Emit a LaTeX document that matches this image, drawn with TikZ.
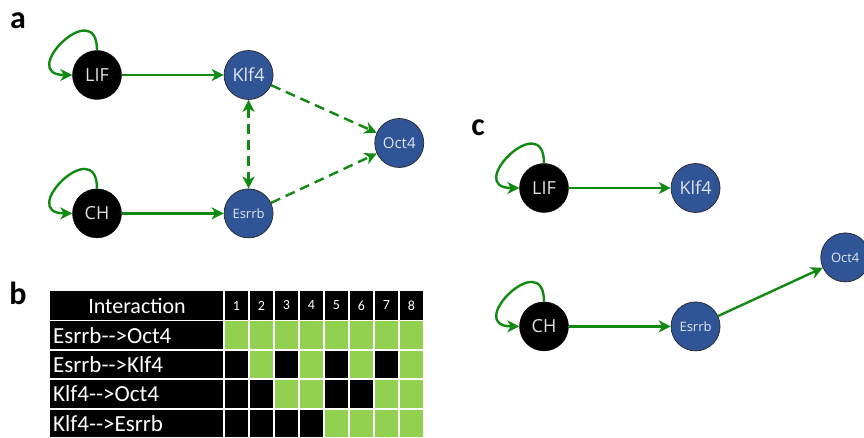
\documentclass[tikz,border=0pt]{standalone}
\usepackage{fontspec}
\setmainfont{Carlito}
\newfontfamily\genefont{Open Sans}
\usetikzlibrary{positioning,arrows.meta}

\definecolor{netgreen}{RGB}{16,138,16}
\definecolor{geneblue}{RGB}{47,85,151}
\definecolor{cellgreen}{RGB}{146,208,80}

\tikzset{
  input/.style={circle, fill=black, draw=black, minimum size=49pt, inner sep=0pt,
    text=white!88!black, font=\genefont\fontsize{18}{18}\selectfont},
  gene/.style={circle, fill=geneblue, draw=black!85, line width=0.7pt, minimum size=49pt,
    inner sep=0pt, text=white!85!geneblue, font=\genefont\fontsize{18}{18}\selectfont},
  smalltext/.style={font=\genefont\fontsize{13}{13}\selectfont},
  midtext/.style={font=\genefont\fontsize{15}{15}\selectfont},
  act/.style={-{Stealth[length=12pt,width=12pt,inset=3.5pt]}, netgreen, line width=2.4pt},
  maybe/.style={act, dash pattern=on 10pt off 6pt},
  both/.style={maybe, {Stealth[length=12pt,width=12pt,inset=3.5pt]}-{Stealth[length=12pt,width=12pt,inset=3.5pt]}},
  selfloop/.style={act, out=90, in=180, distance=56pt},
  panel/.style={font=\bfseries\fontsize{32}{32}\selectfont},
  tabtext/.style={text=white, font=\fontsize{23}{23}\selectfont, inner sep=0pt},
  numtext/.style={text=white, font=\fontsize{14}{14}\selectfont, inner sep=0pt}
}

\begin{document}
\begin{tikzpicture}[x=1pt, y=1pt, node distance=102pt]
  \useasboundingbox (0,0) rectangle (864,-438);

  % panel a
  \node[panel] (labela) at (18,-21) {a};
  \node[input] (lifa) at (97,-75) {LIF};
  \node[gene] [right=of lifa] (klfa) {Klf4};
  \node[input] [below=89pt of lifa] (cha) {CH};
  \node[gene, smalltext] [right=of cha] (esrrba) {Esrrb};
  \node[gene, midtext] [right=101pt of klfa, yshift=-68pt] (octa) {Oct4};

  \draw[act] (lifa) -- (klfa);
  \draw[act] (cha) -- (esrrba);
  \draw[selfloop] (lifa) to (lifa);
  \draw[selfloop] (cha) to (cha);
  \draw[maybe] (klfa) -- (octa);
  \draw[maybe] (esrrba) -- (octa);
  \draw[both] (klfa) -- (esrrba);

  % panel c
  \node[panel] (labelc) at (478,-128) {c};
  \node[input] (lifc) at (544,-188) {LIF};
  \node[gene] [right=of lifc] (klfc) {Klf4};
  \node[input] [below=89pt of lifc] (chc) {CH};
  \node[gene, smalltext] [right=of chc] (esrrbc) {Esrrb};
  \node[gene, smalltext] [right=100pt of esrrbc, yshift=69pt] (octc) {Oct4};

  \draw[act] (lifc) -- (klfc);
  \draw[act] (chc) -- (esrrbc);
  \draw[act] (esrrbc) -- (octc);
  \draw[selfloop] (lifc) to (lifc);
  \draw[selfloop] (chc) to (chc);

  % panel b
  \node[panel] (labelb) at (18,-293) {b};
  \fill[black] (50,-291) rectangle (223.2,-319.6);
  \node[tabtext, font=\fontsize{22}{22}\selectfont] (head) at (137,-305.5) {Interaction};
  \foreach \k in {1,...,8} {
    \fill[black] ({224+25*(\k-1)+0.8},-291) rectangle ({224+25*\k-0.8},-319.6);
    \node[numtext] (num\k) at ({224+25*\k-12.5},-305.5) {\k};
  }
  \foreach \name/\pat [count=\i] in {
      Esrrb-{}->Oct4/{1,1,1,1,1,1,1,1},
      Esrrb-{}->Klf4/{0,1,0,1,0,1,0,1},
      Klf4-{}->Oct4/{0,0,1,1,0,0,1,1},
      Klf4-{}->Esrrb/{0,0,0,0,1,1,1,1}} {
    \pgfmathsetmacro{\top}{-(291+29.4*\i+0.9)}
    \pgfmathsetmacro{\bot}{-(291+29.4*(\i+1)-0.9)}
    \pgfmathsetmacro{\mid}{-(291+29.4*(\i+0.5))}
    \fill[black] (50,\top) rectangle (223.2,\bot);
    \node[tabtext, anchor=west] (row\i) at (53,\mid) {\name};
    \foreach \v [count=\k] in \pat {
      \ifnum\v=1 \def\cellcol{cellgreen}\else\def\cellcol{black}\fi
      \fill[\cellcol] ({224+25*(\k-1)+0.8},\top) rectangle ({224+25*\k-0.8},\bot);
    }
  }
\end{tikzpicture}
\end{document}
